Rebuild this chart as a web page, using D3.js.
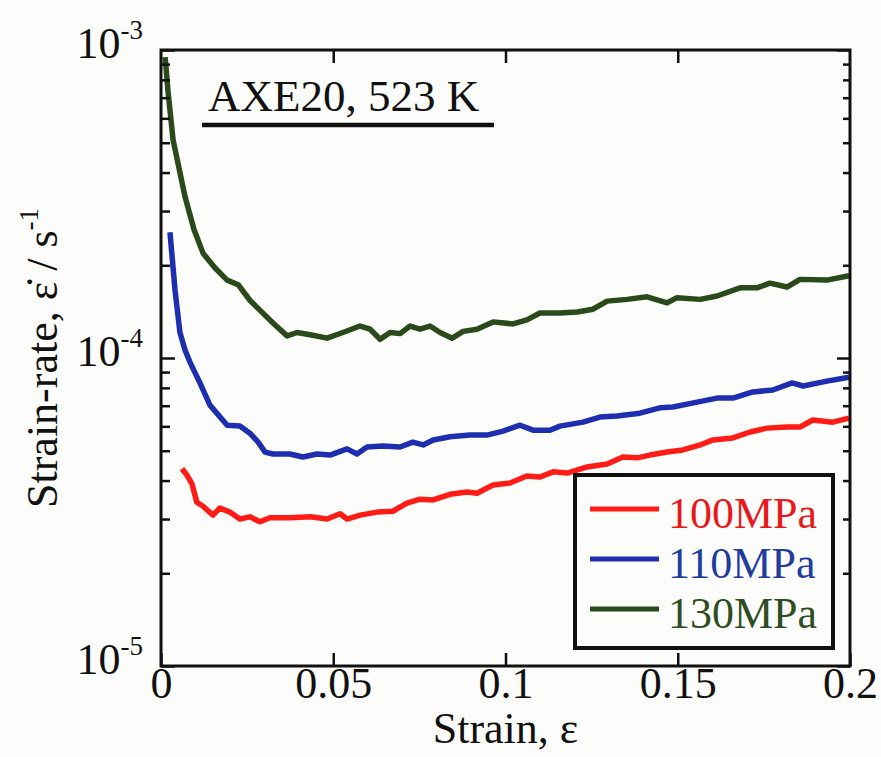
<!DOCTYPE html>
<html>
<head>
<meta charset="utf-8">
<script src="https://cdn.jsdelivr.net/npm/d3@7/dist/d3.min.js"></script>
<style>
  body { margin: 0; background: #fcfcfa; }
  svg { display: block; }
  text { font-family: "Liberation Serif", "Times New Roman", serif; }
</style>
</head>
<body>
<svg id="chart" width="881" height="757"></svg>
<script>
// Creep curves of AXE20 at 523 K: strain-rate vs strain for three applied stresses

const strain100 = [0.0061,0.0075,0.0090,0.0104,0.0122,0.0151,0.0171,0.0200,0.0229,0.0258,0.0287,0.0316,0.0374,0.0433,0.0482,0.0520,0.0540,0.0578,0.0627,0.0673,0.0714,0.0752,0.0790,0.0839,0.0888,0.0917,0.0964,0.1013,0.1062,0.1100,0.1138,0.1179,0.1237,0.1295,0.1341,0.1382,0.1419,0.1469,0.1515,0.1565,0.1602,0.1660,0.1710,0.1759,0.1817,0.1855,0.1892,0.1950,0.1997];
const rate100 = [4.37e-5,4.17e-5,3.90e-5,3.40e-5,3.30e-5,3.09e-5,3.26e-5,3.16e-5,3.00e-5,3.05e-5,2.94e-5,3.03e-5,3.03e-5,3.05e-5,3.00e-5,3.12e-5,3.00e-5,3.09e-5,3.16e-5,3.18e-5,3.38e-5,3.48e-5,3.46e-5,3.61e-5,3.67e-5,3.64e-5,3.87e-5,3.93e-5,4.14e-5,4.11e-5,4.27e-5,4.23e-5,4.43e-5,4.53e-5,4.77e-5,4.74e-5,4.84e-5,4.95e-5,5.03e-5,5.22e-5,5.42e-5,5.50e-5,5.75e-5,5.92e-5,5.97e-5,5.97e-5,6.29e-5,6.19e-5,6.38e-5];

const strain110 = [0.0026,0.0041,0.0055,0.0070,0.0084,0.0113,0.0142,0.0192,0.0229,0.0258,0.0282,0.0302,0.0325,0.0374,0.0412,0.0453,0.0491,0.0540,0.0569,0.0598,0.0644,0.0694,0.0731,0.0761,0.0790,0.0839,0.0897,0.0946,0.0993,0.1042,0.1080,0.1129,0.1158,0.1225,0.1274,0.1324,0.1390,0.1448,0.1486,0.1556,0.1614,0.1660,0.1718,0.1776,0.1832,0.1864,0.1933,0.1997];
const rate110 = [2.56e-4,1.65e-4,1.21e-4,1.06e-4,9.70e-5,8.30e-5,7.03e-5,6.05e-5,6.01e-5,5.70e-5,5.33e-5,4.95e-5,4.88e-5,4.88e-5,4.77e-5,4.88e-5,4.84e-5,5.07e-5,4.88e-5,5.14e-5,5.18e-5,5.14e-5,5.33e-5,5.22e-5,5.42e-5,5.55e-5,5.62e-5,5.62e-5,5.79e-5,6.05e-5,5.83e-5,5.83e-5,6.01e-5,6.19e-5,6.43e-5,6.48e-5,6.62e-5,6.89e-5,6.93e-5,7.19e-5,7.41e-5,7.41e-5,7.76e-5,7.87e-5,8.30e-5,8.11e-5,8.41e-5,8.66e-5];

const strain130 = [0.0012,0.0020,0.0035,0.0070,0.0096,0.0122,0.0157,0.0192,0.0224,0.0258,0.0287,0.0325,0.0366,0.0395,0.0433,0.0482,0.0528,0.0578,0.0607,0.0636,0.0665,0.0694,0.0723,0.0752,0.0781,0.0810,0.0845,0.0877,0.0917,0.0964,0.1022,0.1062,0.1100,0.1158,0.1208,0.1254,0.1295,0.1353,0.1411,0.1469,0.1498,0.1565,0.1614,0.1681,0.1730,0.1768,0.1817,0.1855,0.1933,0.1997];
const rate130 = [9.48e-4,7.41e-4,5.11e-4,3.33e-4,2.61e-4,2.19e-4,1.96e-4,1.79e-4,1.73e-4,1.54e-4,1.43e-4,1.30e-4,1.18e-4,1.21e-4,1.19e-4,1.16e-4,1.21e-4,1.27e-4,1.24e-4,1.15e-4,1.21e-4,1.20e-4,1.27e-4,1.24e-4,1.27e-4,1.21e-4,1.16e-4,1.22e-4,1.24e-4,1.31e-4,1.29e-4,1.33e-4,1.40e-4,1.40e-4,1.41e-4,1.44e-4,1.53e-4,1.55e-4,1.58e-4,1.51e-4,1.57e-4,1.55e-4,1.59e-4,1.69e-4,1.69e-4,1.75e-4,1.70e-4,1.80e-4,1.79e-4,1.85e-4];

const seriesNames = ["100MPa", "110MPa", "130MPa"];
const seriesColors = ["#ff1c16", "#1d2fae", "#2b4a1c"];
const legendTextColors = ["#e8181b", "#1f3c9e", "#2f4d22"];

const xTicks = [0, 0.05, 0.1, 0.15, 0.2];
const xTickLabels = ["0", "0.05", "0.1", "0.15", "0.2"];
const yMajor = [1e-5, 1e-4, 1e-3];
const yMajorExp = ["-5", "-4", "-3"];
const yMinor = [2e-5,3e-5,4e-5,5e-5,6e-5,7e-5,8e-5,9e-5,2e-4,3e-4,4e-4,5e-4,6e-4,7e-4,8e-4,9e-4];

const titleText = "AXE20, 523 K";

const svg = d3.select("#chart");
const W = 881, H = 757;
const m = { left: 161, top: 50, right: W - 850, bottom: H - 666 };
const iw = W - m.left - m.right, ih = H - m.top - m.bottom;

svg.append("rect").attr("width", W).attr("height", H).attr("fill", "#fcfcfa");

const x = d3.scaleLinear().domain([0, 0.2]).range([0, iw]);
const y = d3.scaleLog().domain([1e-5, 1e-3]).range([ih, 0]);

const g = svg.append("g").attr("transform", `translate(${m.left},${m.top})`);

// curves
const series = [
  { s: strain100, r: rate100 },
  { s: strain110, r: rate110 },
  { s: strain130, r: rate130 }
];
const line = d3.line().x(d => x(d[0])).y(d => y(d[1]));
series.forEach((d, i) => {
  g.append("path")
    .datum(d.s.map((v, k) => [v, d.r[k]]))
    .attr("d", line)
    .attr("fill", "none")
    .attr("stroke", seriesColors[i])
    .attr("stroke-width", 5.5)
    .attr("stroke-linejoin", "round")
    .attr("stroke-linecap", "butt");
});

// ticks, all pointing inward
function styleAxis(sel) {
  sel.select(".domain").remove();
  sel.selectAll(".tick line").attr("stroke", "#111").attr("stroke-width", 2.5);
}
const noLabel = () => "";

g.append("g").attr("transform", `translate(0,${ih})`)
  .call(d3.axisBottom(x).tickValues(xTicks).tickSize(-13).tickPadding(1)
        .tickFormat((d, i) => xTickLabels[i]))
  .call(styleAxis)
  .call(s => s.selectAll(".tick text")
        .attr("font-size", 44).attr("fill", "#111")
        .attr("font-family", "Liberation Serif, serif"));

g.append("g")
  .call(d3.axisTop(x).tickValues(xTicks.slice(1, -1)).tickSize(-13).tickFormat(noLabel))
  .call(styleAxis);

g.append("g")
  .call(d3.axisLeft(y).tickValues(yMajor).tickSize(-14).tickFormat(noLabel))
  .call(styleAxis);
g.append("g")
  .call(d3.axisLeft(y).tickValues(yMinor).tickSize(-9).tickFormat(noLabel))
  .call(styleAxis);
g.append("g").attr("transform", `translate(${iw},0)`)
  .call(d3.axisRight(y).tickValues(yMajor).tickSize(-13).tickFormat(noLabel))
  .call(styleAxis);
g.append("g").attr("transform", `translate(${iw},0)`)
  .call(d3.axisRight(y).tickValues(yMinor).tickSize(-7).tickFormat(noLabel))
  .call(styleAxis);

// frame
g.append("rect").attr("width", iw).attr("height", ih)
  .attr("fill", "none").attr("stroke", "#111").attr("stroke-width", 3);

// y tick labels: 10^n
yMajor.forEach((v, i) => {
  const t = g.append("text")
    .attr("x", -18).attr("y", y(v) + 8)
    .attr("text-anchor", "end")
    .attr("font-size", 44).attr("fill", "#111");
  t.append("tspan").text("10");
  t.append("tspan").attr("font-size", 27).attr("dy", -19).text(yMajorExp[i]);
});

// axis titles
svg.append("text")
  .attr("x", m.left + iw / 2).attr("y", 743)
  .attr("text-anchor", "middle").attr("font-size", 44).attr("fill", "#111")
  .text("Strain, \u03b5");

const yt = svg.append("text")
  .attr("transform", `translate(57,${m.top + ih / 2}) rotate(-90)`)
  .attr("text-anchor", "middle").attr("font-size", 44).attr("fill", "#111");
yt.append("tspan").text("Strain-rate, \u03b5\u0307 / s");
yt.append("tspan").attr("font-size", 27).attr("dy", -19).text("-1");

// title with underline
svg.append("text")
  .attr("x", 208).attr("y", 111)
  .attr("font-size", 45).attr("fill", "#111")
  .text(titleText);
svg.append("line")
  .attr("x1", 202).attr("x2", 494).attr("y1", 125).attr("y2", 125)
  .attr("stroke", "#111").attr("stroke-width", 4.5);

// legend
const lg = svg.append("g");
lg.append("rect")
  .attr("x", 575).attr("y", 475).attr("width", 258).attr("height", 173)
  .attr("fill", "#fcfcfa").attr("stroke", "#111").attr("stroke-width", 4);
seriesNames.forEach((name, i) => {
  const ly = 509 + i * 50;
  lg.append("line")
    .attr("x1", 590).attr("x2", 659).attr("y1", ly).attr("y2", ly)
    .attr("stroke", seriesColors[i]).attr("stroke-width", 5);
  lg.append("text")
    .attr("x", 668).attr("y", ly + 19)
    .attr("font-size", 44).attr("fill", legendTextColors[i])
    .text(name);
});
</script>
</body>
</html>
